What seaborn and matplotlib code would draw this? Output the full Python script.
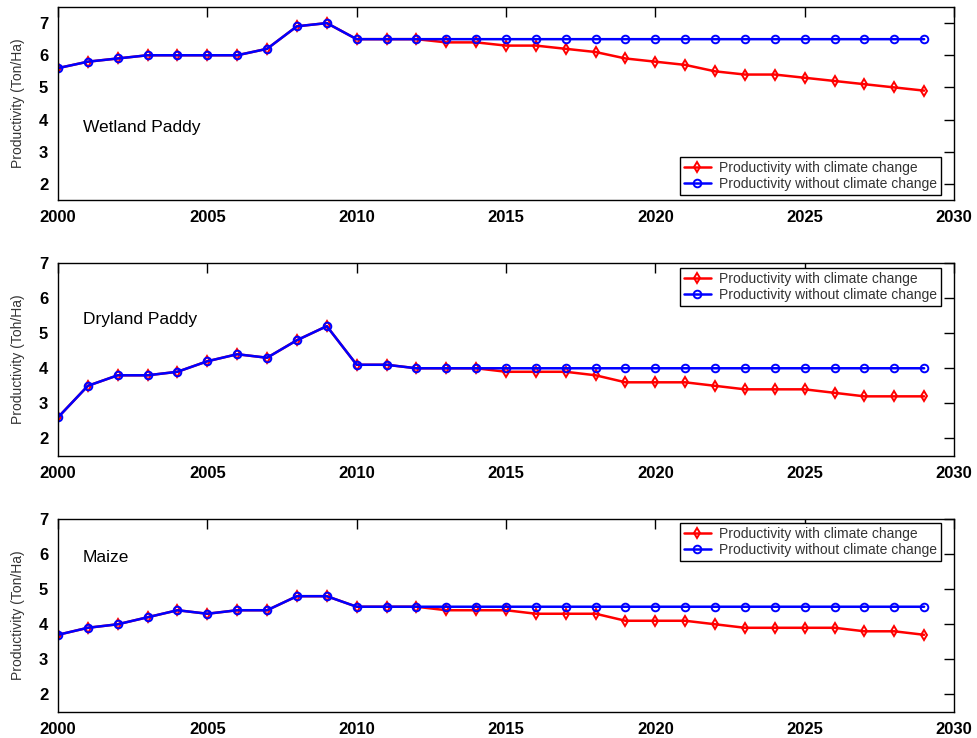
import matplotlib
matplotlib.use("Agg")
import matplotlib.pyplot as plt
import seaborn as sns
import pandas as pd

sns.set_style("white")
plt.rcParams["font.family"] = ["Liberation Sans", "DejaVu Sans"]

years = list(range(2000, 2030))

wetland_without = [5.6, 5.8, 5.9, 6.0, 6.0, 6.0, 6.0, 6.2, 6.9, 7.0,
                   6.5, 6.5, 6.5, 6.5, 6.5, 6.5, 6.5, 6.5, 6.5, 6.5,
                   6.5, 6.5, 6.5, 6.5, 6.5, 6.5, 6.5, 6.5, 6.5, 6.5]
wetland_with = [5.6, 5.8, 5.9, 6.0, 6.0, 6.0, 6.0, 6.2, 6.9, 7.0,
                6.5, 6.5, 6.5, 6.4, 6.4, 6.3, 6.3, 6.2, 6.1, 5.9,
                5.8, 5.7, 5.5, 5.4, 5.4, 5.3, 5.2, 5.1, 5.0, 4.9]

dryland_without = [2.6, 3.5, 3.8, 3.8, 3.9, 4.2, 4.4, 4.3, 4.8, 5.2,
                   4.1, 4.1, 4.0, 4.0, 4.0, 4.0, 4.0, 4.0, 4.0, 4.0,
                   4.0, 4.0, 4.0, 4.0, 4.0, 4.0, 4.0, 4.0, 4.0, 4.0]
dryland_with = [2.6, 3.5, 3.8, 3.8, 3.9, 4.2, 4.4, 4.3, 4.8, 5.2,
                4.1, 4.1, 4.0, 4.0, 4.0, 3.9, 3.9, 3.9, 3.8, 3.6,
                3.6, 3.6, 3.5, 3.4, 3.4, 3.4, 3.3, 3.2, 3.2, 3.2]

maize_without = [3.7, 3.9, 4.0, 4.2, 4.4, 4.3, 4.4, 4.4, 4.8, 4.8,
                 4.5, 4.5, 4.5, 4.5, 4.5, 4.5, 4.5, 4.5, 4.5, 4.5,
                 4.5, 4.5, 4.5, 4.5, 4.5, 4.5, 4.5, 4.5, 4.5, 4.5]
maize_with = [3.7, 3.9, 4.0, 4.2, 4.4, 4.3, 4.4, 4.4, 4.8, 4.8,
              4.5, 4.5, 4.5, 4.4, 4.4, 4.4, 4.3, 4.3, 4.3, 4.1,
              4.1, 4.1, 4.0, 3.9, 3.9, 3.9, 3.9, 3.8, 3.8, 3.7]

crops = ["Wetland Paddy", "Dryland Paddy", "Maize"]
ylabels = ["Productivity (Ton/Ha)", "Productivity (Toh/Ha)", "Productivity (Ton/Ha)"]
series_with = [wetland_with, dryland_with, maize_with]
series_without = [wetland_without, dryland_without, maize_without]
label_with = "Productivity with climate change"
label_without = "Productivity without climate change"

W, H = 978, 738
fig = plt.figure(figsize=(W / 100, H / 100), dpi=100)

# axes boxes in pixel coordinates: (top, bottom)
boxes = [(7, 200), (263, 456), (519, 712)]
ylims = [(1.5, 7.5), (1.5, 7.0), (1.5, 7.0)]
text_pos = [(0.028, 0.378), (0.028, 0.705), (0.028, 0.80)]
legend_loc = ["lower right", "upper right", "upper right"]
legend_anchor = [(0.9855, 0.026), (0.9855, 0.974), (0.9855, 0.979)]
left_px, right_px = 58, 954

for i, crop in enumerate(crops):
    top, bot = boxes[i]
    ax = fig.add_axes([left_px / W, (H - bot) / H,
                       (right_px - left_px) / W, (bot - top) / H])
    df = pd.DataFrame({"Year": years,
                       "with": series_with[i],
                       "without": series_without[i]})
    sns.lineplot(data=df, x="Year", y="with", ax=ax, color="#ff0000",
                 linewidth=1.8, marker="d", markersize=5.5,
                 markerfacecolor="none", markeredgecolor="#ff0000",
                 markeredgewidth=1.4, label=label_with)
    sns.lineplot(data=df, x="Year", y="without", ax=ax, color="#0000ff",
                 linewidth=1.8, marker="o", markersize=5.5,
                 markerfacecolor="none", markeredgecolor="#0000ff",
                 markeredgewidth=1.4, label=label_without)

    ax.set_xlim(2000, 2030)
    ax.set_ylim(*ylims[i])
    ax.set_xticks(range(2000, 2031, 5))
    ax.set_yticks(range(2, 8))
    ax.tick_params(direction="in", length=7, width=1, top=True, right=True,
                   labelsize=12, pad=7, colors="black")
    for lab in ax.get_xticklabels() + ax.get_yticklabels():
        lab.set_fontweight("bold")
    for sp in ax.spines.values():
        sp.set_color("black")
        sp.set_linewidth(1)
    ax.set_xlabel("")
    ax.set_ylabel(ylabels[i], fontsize=10, color="#333333", labelpad=10)
    ax.text(text_pos[i][0], text_pos[i][1], crop, transform=ax.transAxes,
            fontsize=12.5, ha="left", va="center", color="black")
    leg = ax.legend(loc=legend_loc[i], bbox_to_anchor=legend_anchor[i],
                    fontsize=10.0, frameon=True, fancybox=False,
                    framealpha=1, borderpad=0.3, labelspacing=0.15,
                    handlelength=1.9, handletextpad=0.6, borderaxespad=0)
    leg.get_frame().set_edgecolor("black")
    leg.get_frame().set_linewidth(1)
    for t in leg.get_texts():
        t.set_color("#333333")

fig.savefig("out.png", dpi=100)
